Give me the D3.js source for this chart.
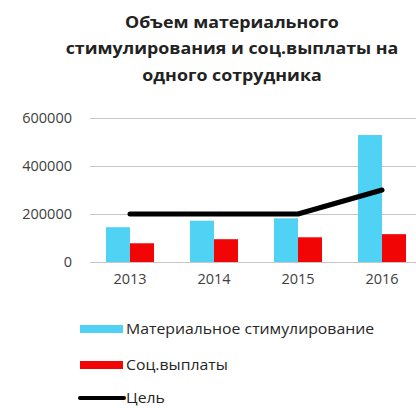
<!DOCTYPE html>
<html><head><meta charset="utf-8">
<script src="https://cdn.jsdelivr.net/npm/d3@7"></script>
<style>body{margin:0;background:#fff}svg{display:block}</style>
</head><body>
<svg id="c" width="416" height="408"></svg>
<script>
const titleLines = ["Объем материального", "стимулирования и соц.выплаты на", "одного сотрудника"];
const categories = ["2013", "2014", "2015", "2016"];
const materialValues = [145000, 172000, 182000, 529000];
const socialValues = [78000, 95000, 103000, 116000];
const targetValues = [200000, 200000, 200000, 300000];
const yTicks = [0, 200000, 400000, 600000];
const seriesNames = ["Материальное стимулирование", "Соц.выплаты", "Цель"];
const colors = ["#4fd2f3", "#f20505", "#000000"];

const svg = d3.select("#c");
const font = "'Open Sans', sans-serif";

const x = d3.scaleBand().domain(categories).range([88, 424]).paddingInner(0).paddingOuter(0);
const y = d3.scaleLinear().domain([0, 600000]).range([262, 118]);
const bw = 24;

// title
svg.append("g").attr("transform", "translate(232,0) scale(1.08,1) translate(-232,0)")
  .selectAll("text").data(titleLines).join("text")
  .attr("x", 232).attr("y", (d, i) => 28 + i * 26.5)
  .attr("text-anchor", "middle").attr("font-family", font).attr("font-weight", 700)
  .attr("font-size", 16.5).attr("fill", "#222")
  .text(d => d);

// grid + y axis
const yAxis = d3.axisLeft(y).tickValues(yTicks).tickSize(-(416 - 90)).tickPadding(18).tickFormat(d3.format("d"));
const gy = svg.append("g").attr("transform", "translate(90,0)").call(yAxis);
gy.select(".domain").remove();
gy.selectAll(".tick line").attr("stroke", "#c6c6c6").attr("stroke-width", 1.2);
gy.selectAll(".tick text").attr("font-family", font).attr("font-size", 14.5).attr("fill", "#404040");

// x axis labels
const xAxis = d3.axisBottom(x).tickSize(0).tickPadding(12);
const gx = svg.append("g").attr("transform", "translate(0,262)").call(xAxis);
gx.select(".domain").remove();
gx.selectAll(".tick text").attr("font-family", font).attr("font-size", 14.5).attr("fill", "#404040");

// bars
const cx = d => x(d) + x.bandwidth() / 2;
svg.append("g").selectAll("rect").data(categories).join("rect")
  .attr("x", d => cx(d) - bw).attr("width", bw)
  .attr("y", (d, i) => y(materialValues[i])).attr("height", (d, i) => y(0) - y(materialValues[i]))
  .attr("fill", colors[0]);
svg.append("g").selectAll("rect").data(categories).join("rect")
  .attr("x", d => cx(d)).attr("width", bw)
  .attr("y", (d, i) => y(socialValues[i])).attr("height", (d, i) => y(0) - y(socialValues[i]))
  .attr("fill", colors[1]);

// target line
const line = d3.line().x(d => cx(d[0])).y(d => y(d[1]));
svg.append("path").datum(categories.map((c, i) => [c, targetValues[i]]))
  .attr("d", line).attr("fill", "none").attr("stroke", colors[2])
  .attr("stroke-width", 5).attr("stroke-linecap", "round").attr("stroke-linejoin", "round");

// legend
const legY = [329, 365, 398];
const lg = svg.append("g");
seriesNames.forEach((name, i) => {
  if (i < 2) {
    lg.append("rect").attr("x", 80).attr("y", legY[i] - 4).attr("width", 43).attr("height", 8).attr("fill", colors[i]);
  } else {
    lg.append("line").attr("x1", 80).attr("x2", 124).attr("y1", legY[i]).attr("y2", legY[i])
      .attr("stroke", colors[i]).attr("stroke-width", 4).attr("stroke-linecap", "round");
  }
  lg.append("text").attr("x", 126).attr("y", legY[i] + 5).attr("font-family", font)
    .attr("transform", "translate(126,0) scale(1.09,1) translate(-126,0)")
    .attr("font-size", 14.5).attr("fill", "#262626").text(name);
});
</script>
</body></html>
